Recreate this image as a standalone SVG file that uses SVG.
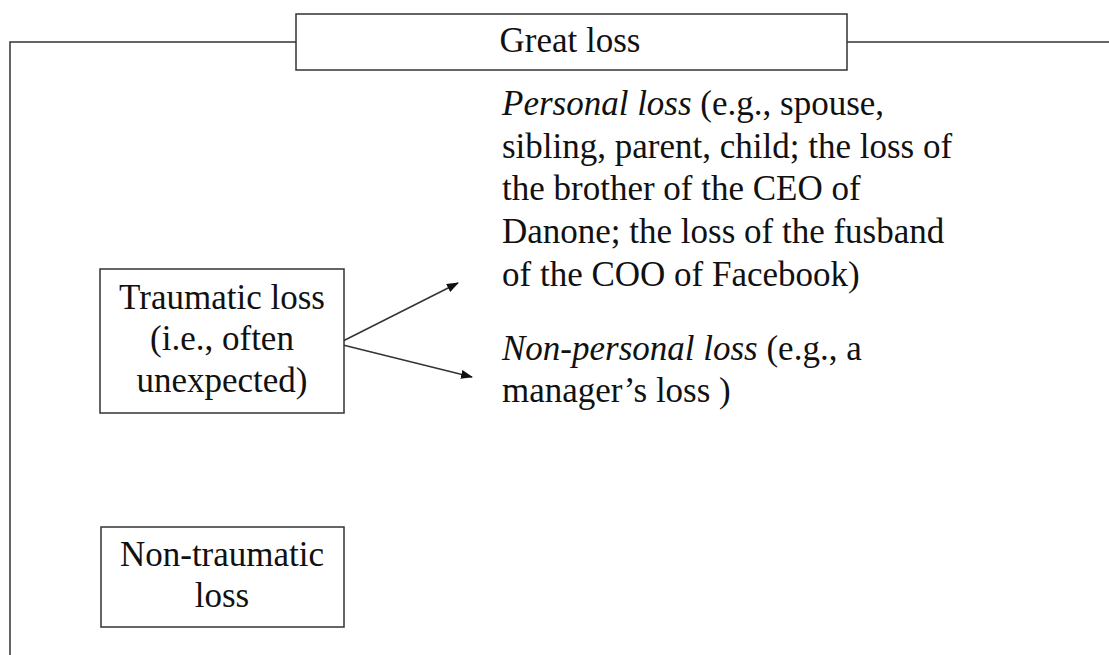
<svg xmlns="http://www.w3.org/2000/svg" width="1109" height="655" viewBox="0 0 1109 655">
<style>
  .box { fill: #fff; stroke: #333; stroke-width: 1.5; }
  .t { font-family: "Liberation Serif", "Times New Roman", serif; font-size: 35px; fill: #111; }
  .c { text-anchor: middle; }
  .conn { fill: none; stroke: #333; stroke-width: 1.5; }
</style>
<defs>
  <marker id="arr" markerUnits="userSpaceOnUse" markerWidth="12" markerHeight="10" refX="11" refY="4.5" orient="auto">
    <path d="M0,0 L12,4.5 L0,9 z" fill="#111"/>
  </marker>
</defs>
<rect width="1109" height="655" fill="#fff"/>
<g id="connectors">
  <path class="conn" d="M10,655 V42 H296"/>
  <path class="conn" d="M847,42 H1109"/>
  <line class="conn" x1="343" y1="341" x2="458" y2="283" marker-end="url(#arr)"/>
  <line class="conn" x1="343" y1="345" x2="472" y2="377" marker-end="url(#arr)"/>
</g>
<g id="great-loss">
  <rect class="box" x="296" y="14" width="551" height="56"/>
  <text class="t c" x="570" y="52">Great loss</text>
</g>
<g id="traumatic-loss">
  <rect class="box" x="100" y="269" width="244" height="144"/>
  <text class="t c" x="222" y="309">Traumatic loss</text>
  <text class="t c" x="222" y="350">(i.e., often</text>
  <text class="t c" x="222" y="392">unexpected)</text>
</g>
<g id="non-traumatic-loss">
  <rect class="box" x="101" y="527" width="243" height="100"/>
  <text class="t c" x="222" y="566">Non-traumatic</text>
  <text class="t c" x="222" y="607">loss</text>
</g>
<g id="personal-loss">
  <text class="t" x="502" y="115"><tspan font-style="italic">Personal loss</tspan> (e.g., spouse,</text>
  <text class="t" x="502" y="158">sibling, parent, child; the loss of</text>
  <text class="t" x="502" y="200">the brother of the CEO of</text>
  <text class="t" x="502" y="243">Danone; the loss of the fusband</text>
  <text class="t" x="502" y="286">of the COO of Facebook)</text>
</g>
<g id="non-personal-loss">
  <text class="t" x="502" y="360"><tspan font-style="italic">Non-personal loss</tspan> (e.g., a</text>
  <text class="t" x="502" y="402">manager’s loss )</text>
</g>
</svg>
